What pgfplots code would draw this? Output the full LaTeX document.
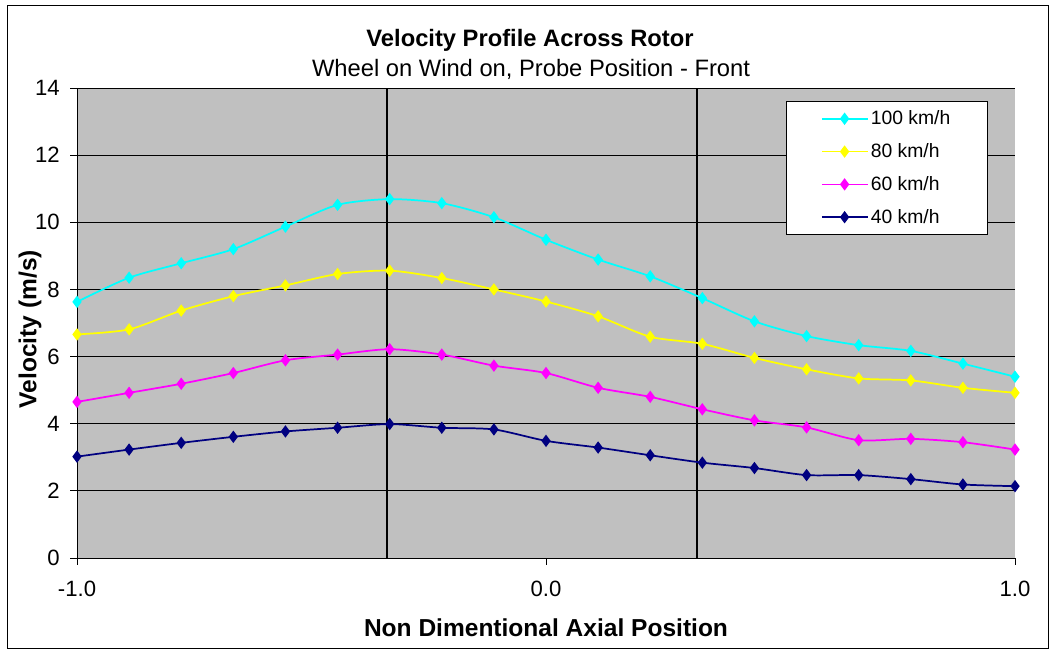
\documentclass[border=0pt]{standalone}
\usepackage{fontspec}
\setmainfont{Liberation Sans}
\usepackage{pgfplots}
\usepackage{pgfplotstable}
\pgfplotsset{compat=1.18}
\newcommand\cf{\fontsize{14.5pt}{17pt}\selectfont}
\newcommand\kf{\fontsize{16.6pt}{19pt}\selectfont}
\newcommand\tf{\fontsize{17.8pt}{21pt}\selectfont}
\newcommand\lf{\fontsize{18.4pt}{21pt}\selectfont}
\definecolor{cy}{HTML}{00FFFF}
\definecolor{ye}{HTML}{FFFF00}
\definecolor{ma}{HTML}{FF00FF}
\definecolor{nv}{HTML}{000080}
\definecolor{bg}{HTML}{C0C0C0}
\pgfplotstableread{
x c100 c80 c60 c40
-1.0000 7.63 6.66 4.65 3.02
-0.8889 8.35 6.81 4.92 3.23
-0.7778 8.78 7.37 5.19 3.43
-0.6667 9.20 7.80 5.51 3.61
-0.5556 9.87 8.12 5.89 3.77
-0.4444 10.52 8.46 6.06 3.88
-0.3333 10.69 8.56 6.22 3.99
-0.2222 10.57 8.34 6.06 3.88
-0.1111 10.15 8.00 5.73 3.83
0.0000 9.48 7.64 5.51 3.49
0.1111 8.89 7.20 5.07 3.29
0.2222 8.39 6.59 4.80 3.06
0.3333 7.74 6.38 4.43 2.84
0.4444 7.05 5.96 4.10 2.68
0.5556 6.61 5.62 3.89 2.47
0.6667 6.34 5.35 3.51 2.47
0.7778 6.17 5.29 3.55 2.35
0.8889 5.79 5.07 3.45 2.19
1.0000 5.40 4.92 3.23 2.14
}\data
\begin{document}
\begin{tikzpicture}
\useasboundingbox (0pt,0pt) rectangle (791.25pt,-487.5pt);
\draw[black, line width=0.75pt] (5.25pt,-3.75pt) rectangle (786pt,-486pt);
\begin{axis}[
  at={(57.75pt,-418.5pt)}, anchor=south west,
  scale only axis, width=703.5pt, height=352.5pt,
  xmin=-1, xmax=1, ymin=0, ymax=14,
  axis background/.style={fill=bg},
  axis x line*=bottom, axis y line*=left,
  axis line style={black, line width=0.75pt},
  xtick={-1,0,1}, xticklabels={-1.0,0.0,1.0},
  ytick={0,2,...,14},
  tick align=outside, major tick length=5pt,
  tick style={black, line width=0.75pt},
  ymajorgrids, grid style={black, line width=0.75pt},
  /pgf/number format/assume math mode=true,
  tick label style={font=\kf},
  xticklabel style={yshift=-9pt},
  yticklabel style={xshift=-4.5pt},
  xlabel={\bfseries Non Dimentional Axial Position},
  ylabel={\bfseries Velocity (m/s)},
  label style={font=\lf},
  x label style={at={(axis description cs:0.5,-0.149)}, anchor=center},
  y label style={at={(axis description cs:-0.050,0.487)}, anchor=center},
  legend style={at={(0.756,0.972)}, anchor=north west, draw=black, fill=white,
    font=\cf, inner xsep=26pt, inner ysep=5pt, row sep=8.6pt,
    cells={anchor=west}},
  legend image code/.code={\draw[mark repeat=2,mark phase=2,line width=1.3pt,#1] plot coordinates {(0pt,0pt) (17pt,0pt) (34pt,0pt)};},
  every axis plot/.append style={line width=1.3pt, mark=diamond*, mark size=3.6pt, smooth, tension=0.45},
]
\addplot[black, line width=1.5pt, mark=none, forget plot] coordinates {(-0.338,0) (-0.338,14)};
\addplot[black, line width=1.5pt, mark=none, forget plot] coordinates {(0.323,0) (0.323,14)};
\addplot[cy, mark options={fill=cy, draw=cy}] table[x=x,y=c100] {\data};
\addplot[ye, mark options={fill=ye, draw=ye}] table[x=x,y=c80] {\data};
\addplot[ma, mark options={fill=ma, draw=ma}] table[x=x,y=c60] {\data};
\addplot[nv, mark options={fill=nv, draw=nv}] table[x=x,y=c40] {\data};
\legend{100 km/h, 80 km/h, 60 km/h, 40 km/h}
\end{axis}
\node[font=\tf\bfseries] at (397.5pt,-30pt) {Velocity Profile Across Rotor};
\node[font=\tf] at (398.25pt,-51.75pt) {Wheel on Wind on, Probe Position - Front};
\end{tikzpicture}
\end{document}
